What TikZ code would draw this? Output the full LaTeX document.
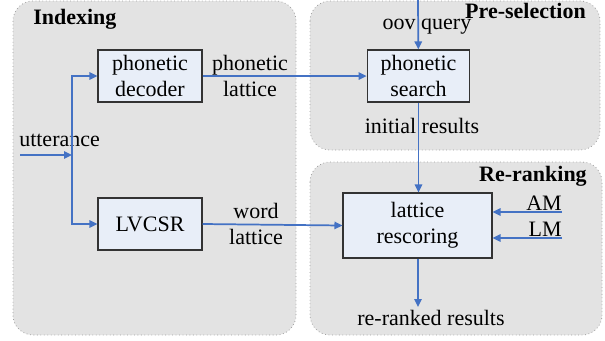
\documentclass[tikz,border=0pt]{standalone}
\usepackage{fontspec}
\setmainfont{Liberation Serif}
\usetikzlibrary{arrows.meta}
\definecolor{linkblue}{HTML}{4472C4}
\definecolor{boxfill}{HTML}{E8EEF8}
\definecolor{areafill}{HTML}{E3E3E3}
\definecolor{areaborder}{HTML}{A0A0A0}
\newcommand{\diagfont}{\fontsize{16.5}{19.5}\selectfont}
\tikzset{
  area/.style={fill=areafill, draw=areaborder, line width=0.6pt, dotted, rounded corners=15pt},
  block/.style={draw=black!80, line width=0.8pt, fill=boxfill, align=center, inner sep=0pt},
  link/.style={draw=linkblue, line width=1.3pt, -{Triangle[length=6pt,width=5.5pt]}},
  plain/.style={draw=linkblue, line width=1.3pt},
  label/.style={align=center, inner sep=0pt},
  title/.style={font=\diagfont\bfseries, inner sep=0pt}
}
\begin{document}
\begin{tikzpicture}[x=0.75pt, y=-0.75pt, font=\diagfont]
      \useasboundingbox (0,0) rectangle (605,340);
      % areas
      \draw[area] (13,1) rectangle (296,335);
      \draw[area] (310,1) rectangle (600,150);
      \draw[area] (310,162) rectangle (602,335);
      \node[title, anchor=base west] (indexing) at (33,24) {Indexing};
      \node[title, anchor=base east] (preselection) at (586,18) {Pre-selection};
      \node[title, anchor=base east] (reranking) at (587,181) {Re-ranking};
      % blocks
      \node[block, minimum width=78pt, minimum height=39pt] (decoder) at (150,76) {phonetic\\decoder};
      \node[block, minimum width=78pt, minimum height=39pt] (lvcsr) at (150,224) {LVCSR};
      \node[block, minimum width=77pt, minimum height=39pt] (search) at (418.5,76) {phonetic\\search};
      \node[block, minimum width=111.75pt, minimum height=48.75pt] (rescoring) at (417.5,225.5) {lattice\\rescoring};
      % ends
      \coordinate (utt) at (20,155);
      \coordinate (split) at (72,155);
      \coordinate (query) at (418,0);
      \coordinate (am) at (562,212);
      \coordinate (lm) at (562,238);
      \coordinate (ranked) at (418,307);
      % texts
      \node[label, anchor=base west] (uttlabel) at (19,146) {utterance};
      \node[label] (phlattice) at (250,76) {phonetic\\lattice};
      \node[label] (wdlattice) at (256,224) {word\\lattice};
      \node[label] (querylabel) at (427,27) {oov query};
      \node[label] (initial) at (422,126) {initial results};
      \node[label, anchor=base east] (amlabel) at (562,210) {AM};
      \node[label, anchor=base east] (lmlabel) at (562,236) {LM};
      \node[label] (rankedlabel) at (431,318) {re-ranked results};
      % connectors
      \begin{scope}[link]
        \draw[plain] (utt) -- (split);
        \draw (split) |- (decoder);
        \draw (split) |- (lvcsr);
        \draw (decoder) -- (search);
        \draw (lvcsr.east) -- (rescoring.west);
        \draw (query) -- (search);
        \draw (search) -- (search |- rescoring.north);
        \draw (am) -- (rescoring.east |- am);
        \draw (lm) -- (rescoring.east |- lm);
        \draw (rescoring.south -| ranked) -- (ranked);
      \end{scope}
    \end{tikzpicture}
\end{document}
